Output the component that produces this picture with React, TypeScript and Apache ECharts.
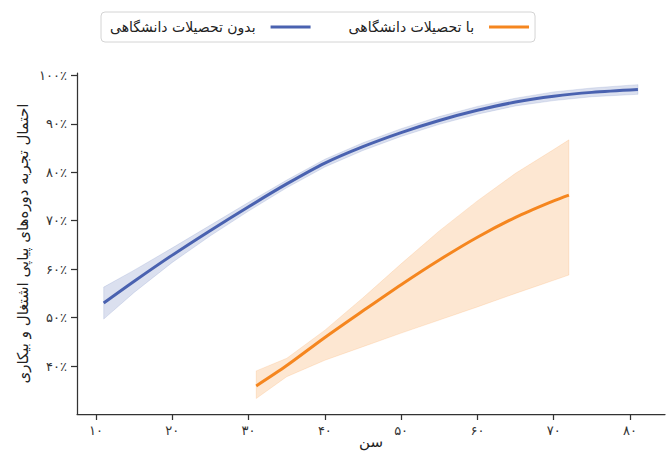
import React, { useEffect, useRef } from "react";
import * as echarts from "echarts";

// Ages and estimated probabilities (%)
const blueAges = [11.0, 15, 20, 25, 30, 35, 40, 45, 50, 55, 60, 65, 70, 75, 81.05];
const blueMean = [53.0, 57.5, 62.9, 68.0, 72.9, 77.6, 81.9, 85.3, 88.2, 90.7, 92.8, 94.5, 95.7, 96.5, 97.1];
const blueLow = [49.7, 55.2, 61.4, 66.9, 72.0, 76.8, 81.1, 84.5, 87.4, 89.9, 92.0, 93.7, 94.8, 95.6, 96.1];
const blueHigh = [56.3, 59.8, 64.4, 69.1, 73.8, 78.4, 82.7, 86.1, 89.0, 91.5, 93.6, 95.3, 96.6, 97.4, 98.1];

const orangeAges = [31.0, 35, 40, 45, 50, 55, 60, 65, 70, 72.0];
const orangeMean = [35.9, 40.1, 45.9, 51.4, 56.8, 61.9, 66.6, 70.7, 74.1, 75.3];
const orangeLow = [33.3, 37.8, 41.2, 44.0, 46.8, 49.5, 52.2, 55.0, 57.7, 58.8];
const orangeHigh = [39.0, 41.6, 47.4, 54.1, 61.1, 67.9, 74.1, 79.8, 84.7, 86.7];

const xTicks = [10, 20, 30, 40, 50, 60, 70, 80];
const yTicks = [40, 50, 60, 70, 80, 90, 100];

const nameNoUni = "بدون تحصیلات دانشگاهی";
const nameUni = "با تحصیلات دانشگاهی";
const xName = "سن";
const yName = "احتمال تجربه دوره‌های پیاپی اشتغال و بیکاری";

const BLUE = "#4a62b0";
const ORANGE = "#f5861f";
const FONT = "DejaVu Sans";

const faDigits = "۰۱۲۳۴۵۶۷۸۹";
const toFa = (v: number) =>
  String(Math.round(v)).replace(/[0-9]/g, (d) => faDigits[Number(d)]);

function bandSeries(id: string, ages: number[], low: number[], high: number[], fill: string, edge: string) {
  return {
    id,
    name: id,
    type: "custom",
    data: [[ages[0], low[0]]],
    silent: true,
    clip: true,
    z: 1,
    renderItem: (_params: any, api: any) => {
      const pts: number[][] = [];
      for (let i = 0; i < ages.length; i++) pts.push(api.coord([ages[i], high[i]]));
      for (let i = ages.length - 1; i >= 0; i--) pts.push(api.coord([ages[i], low[i]]));
      return {
        type: "polygon",
        shape: { points: pts },
        style: { fill, stroke: edge, lineWidth: 1 },
      };
    },
  };
}

export default function App() {
  const ref = useRef<HTMLDivElement>(null);
  useEffect(() => {
    if (!ref.current) return;
    const chart = echarts.init(ref.current, null, { renderer: "svg" });
    const axisCommon = {
      type: "value",
      splitLine: { show: false },
      axisLine: { show: true, lineStyle: { color: "#333", width: 1.25 } },
      axisTick: { show: true, length: 6, lineStyle: { color: "#333", width: 1.25 } },
      nameLocation: "middle",
      nameMoveOverlap: false,
      nameTextStyle: { fontFamily: FONT, fontSize: 15, color: "#222" },
    };
    chart.setOption({
      animation: false,
      backgroundColor: "#fff",
      textStyle: { fontFamily: FONT },
      grid: { left: 77, right: 6, top: 73, bottom: 39, containLabel: false, outerBoundsMode: "none" },
      legend: {
        left: 101,
        top: 12,
        align: "right",
        icon: "rect",
        itemWidth: 40,
        itemHeight: 3,
        itemGap: 38,
        borderColor: "#d4d4d4",
        borderWidth: 1,
        borderRadius: 4,
        padding: [8, 6, 8, 9],
        textStyle: { fontFamily: FONT, fontSize: 14, color: "#222", padding: [0, 10, 0, 0] },
        data: [{ name: nameNoUni }, { name: nameUni }],
      },
      xAxis: {
        ...axisCommon,
        min: 7.5,
        max: 84.6,
        name: xName,
        nameGap: 20,
        axisTick: { ...axisCommon.axisTick, customValues: xTicks },
        axisLabel: {
          customValues: xTicks,
          margin: 10,
          fontFamily: FONT,
          fontSize: 13,
          color: "#333",
          formatter: (v: number) => toFa(v),
        },
      },
      yAxis: {
        ...axisCommon,
        min: 30.1,
        max: 100.5,
        name: yName,
        nameGap: 47,
        nameRotate: 90,
        axisTick: { ...axisCommon.axisTick, customValues: yTicks },
        axisLabel: {
          customValues: yTicks,
          margin: 10,
          fontFamily: FONT,
          fontSize: 13,
          color: "#333",
          formatter: (v: number) => toFa(v) + "٪",
        },
      },
      series: [
        bandSeries("blueBand", blueAges, blueLow, blueHigh, "rgba(74,98,176,0.2)", "rgba(74,98,176,0.15)"),
        bandSeries("orangeBand", orangeAges, orangeLow, orangeHigh, "rgba(245,134,31,0.2)", "rgba(245,134,31,0.15)"),
        {
          name: nameNoUni,
          type: "line",
          data: blueAges.map((a, i) => [a, blueMean[i]]),
          symbol: "none",
          smooth: 0.3,
          color: BLUE,
          lineStyle: { width: 3, color: BLUE },
          z: 3,
        },
        {
          name: nameUni,
          type: "line",
          data: orangeAges.map((a, i) => [a, orangeMean[i]]),
          symbol: "none",
          smooth: 0.3,
          color: ORANGE,
          lineStyle: { width: 3, color: ORANGE },
          z: 3,
        },
      ],
    });
    return () => chart.dispose();
  }, []);
  return (
    <div
      ref={ref}
      style={{ position: "fixed", left: 0, top: 0, width: 671, height: 453, background: "#fff" }}
    />
  );
}
